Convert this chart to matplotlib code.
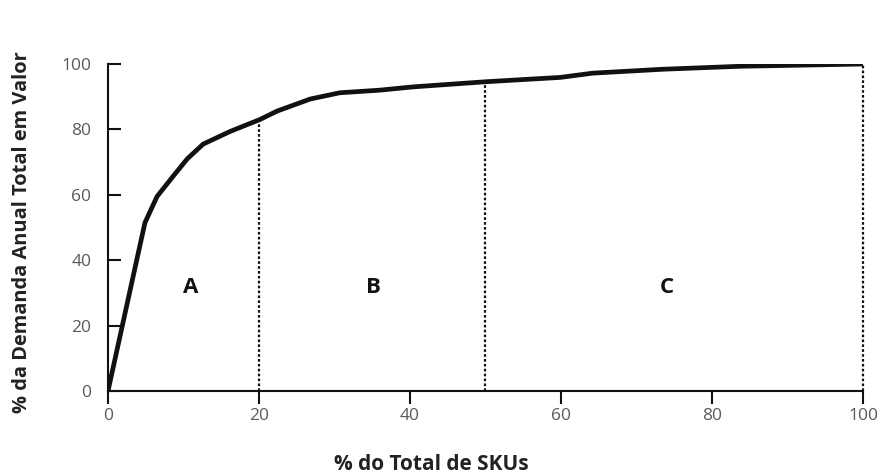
import matplotlib
matplotlib.use("Agg")
import matplotlib.pyplot as plt

# Data
pct_skus = [0, 3.8, 4.9, 6.5, 8.6, 10.5, 12.6, 16.2, 20.1, 22.4, 26.8, 30.7, 36.0, 40.4, 50.2, 59.9, 64.2, 73.5, 83.7, 100]
pct_value = [0, 40, 51.5, 59.5, 65.6, 71.0, 75.5, 79.4, 83, 85.6, 89.3, 91.2, 92.0, 93.0, 94.6, 95.9, 97.2, 98.4, 99.3, 100]
boundaries = [20, 50, 100]
boundary_tops = [83, 94.6, 100]
class_labels = ["A", "B", "C"]
class_x = [10.9, 35.1, 74.0]
class_y = 31.5
xticks = [0, 20, 40, 60, 80, 100]
yticks = [0, 20, 40, 60, 80, 100]

plt.rcParams['font.family'] = ['Open Sans', 'DejaVu Sans']

fig = plt.figure(figsize=(8.83, 4.75), dpi=100)
ax = fig.add_axes([108/883, 1-391/475, (863-108)/883, (391-64)/475])

ax.plot(pct_skus, pct_value, color='#111111', lw=3.4, solid_capstyle='round', solid_joinstyle='round', zorder=3)
for xb, yt in zip(boundaries, boundary_tops):
    ax.plot([xb, xb], [0, yt], color='#111111', lw=1.6, linestyle=(0, (1.2, 1.0)), zorder=2, clip_on=False)
for lab, xc in zip(class_labels, class_x):
    ax.text(xc, class_y, lab, fontsize=16, fontweight='bold', ha='center', va='center', color='#111111')

ax.set_xlim(0, 100)
ax.set_ylim(0, 100)
ax.set_xticks(xticks)
ax.set_yticks(yticks)
ax.spines['top'].set_visible(False)
ax.spines['right'].set_visible(False)
for s in ['left', 'bottom']:
    ax.spines[s].set_linewidth(1.5)
    ax.spines[s].set_color('#111111')
ax.tick_params(axis='y', direction='in', length=9, width=1.5, colors='#111111', labelcolor='#5a5a5a', labelsize=12.5, pad=12)
ax.tick_params(axis='x', direction='out', length=9, width=1.5, colors='#111111', labelcolor='#5a5a5a', labelsize=12.5, pad=3)

fig.text(22/883, 1-232/475, '% da Demanda Anual Total em Valor', rotation=90, ha='center', va='center',
         fontsize=14.4, fontweight='bold', color='#222222')
fig.text(431/883, 1-464/475, '% do Total de SKUs', ha='center', va='center',
         fontsize=15, fontweight='bold', color='#222222')

fig.savefig('out.png', dpi=100)
